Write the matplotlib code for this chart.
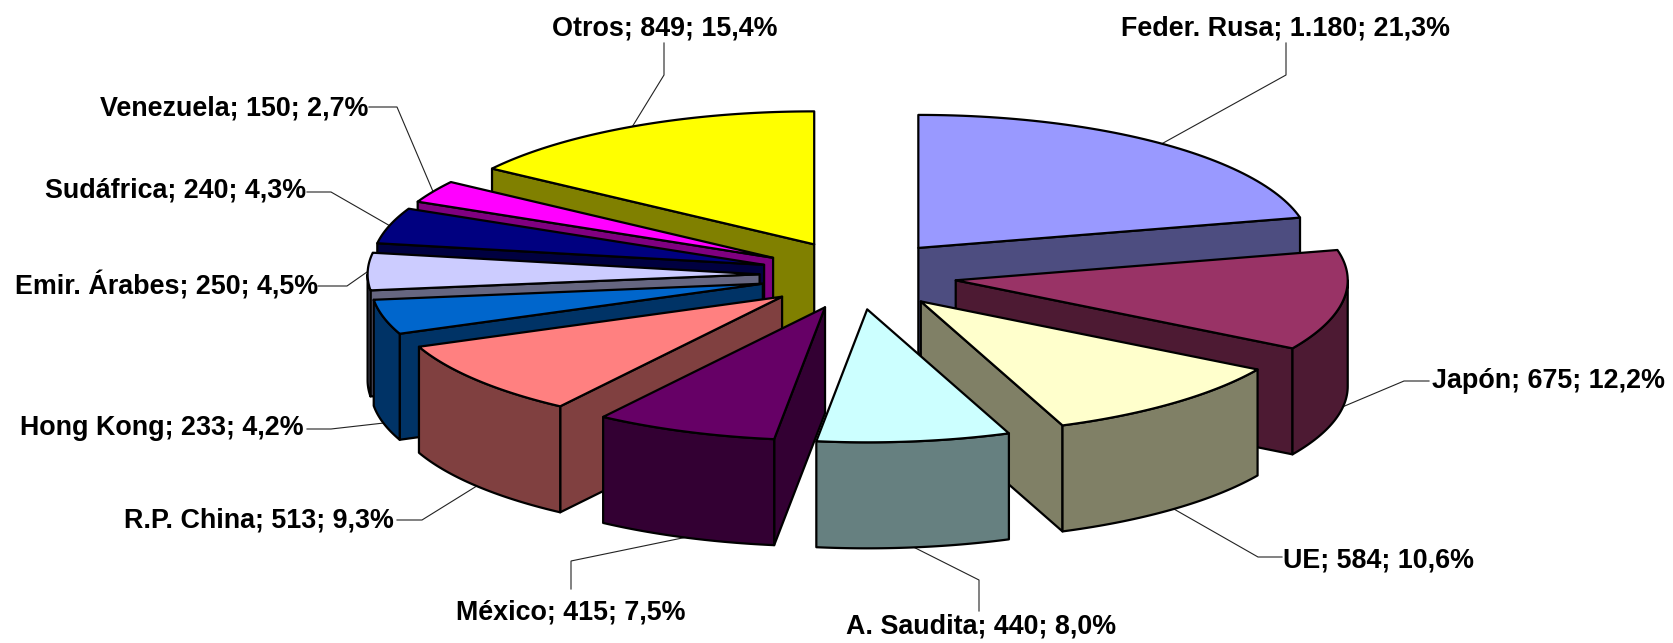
# Exploded 3D pie chart of market shares with leader lines

import numpy as np
import matplotlib
matplotlib.use("Agg")
import matplotlib.pyplot as plt
from matplotlib.colors import to_rgb
from matplotlib.patches import Polygon

plt.rcParams['font.family'] = ['Liberation Sans', 'DejaVu Sans']

# Data
countries = ["Feder. Rusa", "Japón", "UE", "A. Saudita", "México", "R.P. China",
             "Hong Kong", "Emir. Árabes", "Sudáfrica", "Venezuela", "Otros"]
values = [1180, 675, 584, 440, 415, 513, 233, 250, 240, 150, 849]
colors = ["#9999FF", "#993366", "#FFFFCC", "#CCFFFF", "#660066", "#FF8080",
          "#0066CC", "#CCCCFF", "#000080", "#FF00FF", "#FFFF00"]

# Label centres and leader elbows, in figure pixels
label_pos = [(1286, 29), (1549, 381), (1379, 560), (981, 627), (571, 612), (259, 520),
             (162, 428), (167, 286), (176, 191), (234, 108), (665, 29)]
elbows = [[(1286, 75), (1286, 43)], [(1404, 381), (1429, 381)], [(1258, 557), (1282, 557)],
          [(979, 580), (979, 611)], [(571, 561), (571, 589)], [(422, 520), (397, 520)],
          [(331, 429), (307, 429)], [(347, 286), (318, 286)], [(331, 192), (307, 192)],
          [(397, 107), (369, 107)], [(664, 75), (664, 43)]]

# Pie geometry, in figure pixels
cx, cy = 855, 275
rx, ry = 392, 133
explode = 0.26
depth = 106
left_shift = 6.5

fig = plt.figure(figsize=(16.74, 6.43), dpi=100)
ax = fig.add_axes([0, 0, 1, 1])
ax.set_xlim(0, 1674)
ax.set_ylim(643, 0)
ax.axis('off')

total = sum(values)
edges = np.radians(np.cumsum([0] + values) / total * 360)


def point(apex, theta):
    return apex[0] + rx * np.sin(theta), apex[1] - ry * np.cos(theta)


def draw_face(pts, color, z):
    ax.add_patch(Polygon(pts, closed=True, facecolor=color, edgecolor='black',
                         linewidth=1.6, joinstyle='round', zorder=z))


mids = (edges[:-1] + edges[1:]) / 2
order = np.argsort(-np.cos(mids))
z = 2
for i in order:
    t1, t2, mid = edges[i], edges[i + 1], mids[i]
    apex = (cx + explode * rx * np.sin(mid), cy - explode * ry * np.cos(mid))
    if np.sin(mid) < 0:
        apex = (apex[0] + left_shift, apex[1])
    top = to_rgb(colors[i])
    wall = tuple(c * 0.5 for c in top)

    # radial walls which face the viewer
    for t, visible in ((t1, np.sin(t1) < -1e-6), (t2, np.sin(t2) > 1e-6)):
        if visible:
            x, y = point(apex, t)
            draw_face([apex, (x, y), (x, y + depth), (apex[0], apex[1] + depth)], wall, z)
            z += 1

    # outer wall, front half only
    a1, a2 = max(t1, np.pi / 2), min(t2, 3 * np.pi / 2)
    if a2 > a1:
        arc = np.linspace(a1, a2, 40)
        xs, ys = point(apex, arc)
        pts = list(zip(xs, ys)) + list(zip(xs[::-1], ys[::-1] + depth))
        draw_face(pts, wall, z)
        z += 1

    # top face
    arc = np.linspace(t1, t2, 60)
    xs, ys = point(apex, arc)
    draw_face([apex] + list(zip(xs, ys)), top, z)
    z += 1

    # leader line from the arc midpoint to the label
    x0, y0 = point(apex, mid)
    if np.cos(mid) < 0:
        y0 += depth
    line = [(x0, y0)] + elbows[i]
    ax.plot([p[0] for p in line], [p[1] for p in line], color='#222222', lw=0.8,
            solid_joinstyle='miter', zorder=1)

    number = f"{values[i]:,}".replace(",", ".")
    share = f"{values[i] / total * 100:.1f}".replace(".", ",")
    ax.text(label_pos[i][0], label_pos[i][1], f"{countries[i]}; {number}; {share}%",
            ha='center', va='center', fontsize=19.4, fontweight='bold', color='black', zorder=100)

plt.savefig("out.png", dpi=100)
plt.close()
